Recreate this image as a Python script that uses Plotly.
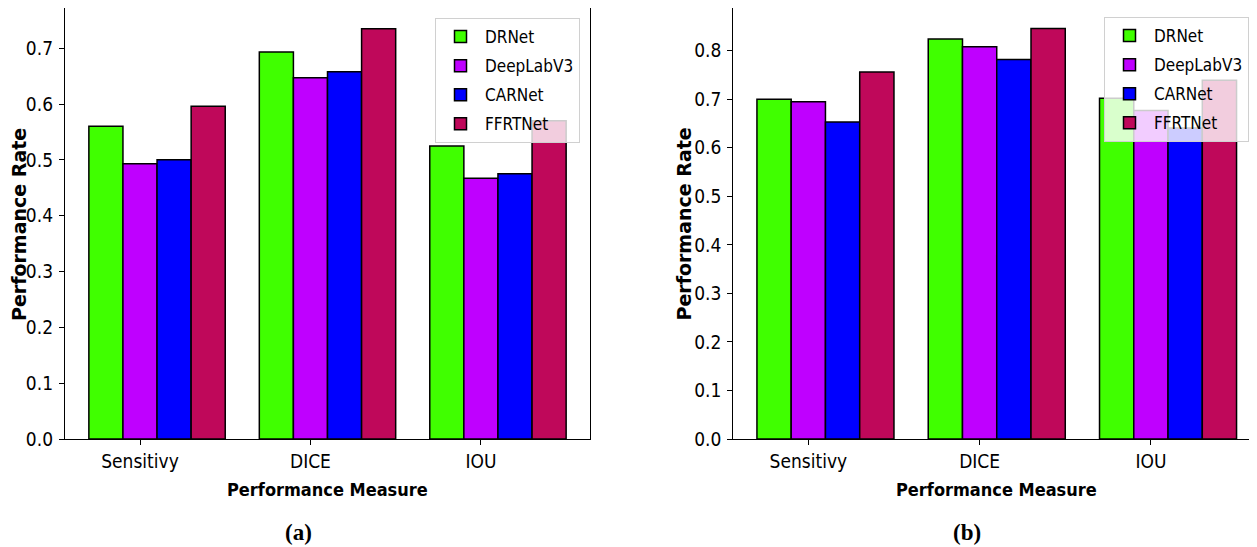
import plotly.graph_objects as go

categories = ["Sensitivy", "DICE", "IOU"]
models = ["DRNet", "DeepLabV3", "CARNet", "FFRTNet"]
colors = ["#40FF00", "#BF00FF", "#0000FF", "#BF085A"]

# panel (a)
a_drnet = [0.560, 0.693, 0.525]
a_deeplab = [0.493, 0.647, 0.467]
a_carnet = [0.500, 0.658, 0.475]
a_ffrtnet = [0.596, 0.735, 0.570]

# panel (b)
b_drnet = [0.700, 0.824, 0.702]
b_deeplab = [0.695, 0.808, 0.677]
b_carnet = [0.653, 0.782, 0.641]
b_ffrtnet = [0.756, 0.846, 0.739]

yticks_a = [0.0, 0.1, 0.2, 0.3, 0.4, 0.5, 0.6, 0.7]
yticks_b = [0.0, 0.1, 0.2, 0.3, 0.4, 0.5, 0.6, 0.7, 0.8]

OFF = 8  # default page body margin
W, H = 1257 - OFF, 547 - OFF
FONT = "DejaVu Sans Condensed, DejaVu Sans, sans-serif"
FONT_WIDE = "DejaVu Sans, sans-serif"
bar_w = 0.2

fig = go.Figure()
panels = [
    ("a", [a_drnet, a_deeplab, a_carnet, a_ffrtnet], "x", "y", "legend"),
    ("b", [b_drnet, b_deeplab, b_carnet, b_ffrtnet], "x2", "y2", "legend2"),
]
for tag, series, xa, ya, lg in panels:
    for k, (name, vals, col) in enumerate(zip(models, series, colors)):
        fig.add_trace(go.Bar(
            x=[i + (k - 1) * bar_w for i in range(len(categories))],
            y=vals, width=bar_w, name=name,
            marker=dict(color=col, line=dict(color="black", width=1.5)),
            xaxis=xa, yaxis=ya, legend=lg, legendgroup=f"{tag}{k}",
        ))

def px_x(p):
    return (p - OFF) / W

def px_y(p):
    return (H - (p - OFF)) / H

ydom = [px_y(439), px_y(8)]
axis_common = dict(showline=True, linecolor="black", linewidth=1.3, ticks="outside",
                   ticklen=5, tickwidth=1.3, tickcolor="black", showgrid=False, zeroline=False,
                   automargin=False,
                   tickfont=dict(family=FONT, size=19, color="black"))

fig.update_layout(
    width=W, height=H, margin=dict(l=0, r=0, t=0, b=0),
    plot_bgcolor="white", paper_bgcolor="white", barmode="overlay",
    xaxis=dict(domain=[px_x(65), px_x(590)], range=[-0.44, 2.64], mirror=True,
               tickvals=list(range(3)), ticktext=categories, anchor="y",
               **axis_common),
    yaxis=dict(domain=ydom, range=[0, 0.772], mirror=True, anchor="x",
               tickvals=yticks_a, ticktext=[f"{v:.1f}" for v in yticks_a],
               ticklabelstandoff=2, **axis_common),
    xaxis2=dict(domain=[px_x(733.3), 1.0], range=[-0.438, (1257 - 808.3) / 171.3], mirror=True,
                tickvals=list(range(3)), ticktext=categories, anchor="y2",
                **axis_common),
    yaxis2=dict(domain=ydom, range=[0, 0.888], anchor="x2",
                tickvals=yticks_b, ticktext=[f"{v:.1f}" for v in yticks_b],
                ticklabelstandoff=2, **axis_common),
    legend=dict(x=px_x(435), y=px_y(18), xanchor="left", yanchor="top",
                bgcolor="rgba(255,255,255,0.8)", bordercolor="#d0d0d0", borderwidth=1,
                itemwidth=39,
                font=dict(family=FONT, size=17, color="black"), traceorder="grouped", tracegroupgap=4),
    legend2=dict(x=px_x(1104), y=px_y(17), xanchor="left", yanchor="top",
                 bgcolor="rgba(255,255,255,0.8)", bordercolor="#d0d0d0", borderwidth=1,
                 itemwidth=39,
                 font=dict(family=FONT, size=17, color="black"), traceorder="grouped", tracegroupgap=4),
)

title_font = dict(family=FONT, size=18, color="black")
ytitle_font = dict(family=FONT_WIDE, size=19, color="black")
serif = dict(family="Liberation Serif, Times New Roman, serif", size=23, color="black")
annos = [
    ("<b>Performance Measure</b>", 327.5, 489, 0, title_font),
    ("<b>Performance Measure</b>", 996, 489, 0, title_font),
    ("<b>Performance Rate</b>", 19.5, 224.5, -90, ytitle_font),
    ("<b>Performance Rate</b>", 684, 224.5, -90, ytitle_font),
    ("<b>(a)</b>", 298, 532, 0, serif),
    ("<b>(b)</b>", 967, 532, 0, serif),
]
for text, xp, yp, ang, f in annos:
    fig.add_annotation(text=text, x=px_x(xp), y=px_y(yp), xref="paper", yref="paper",
                       xanchor="center", yanchor="middle", textangle=ang,
                       showarrow=False, font=f)

fig.write_html("out.html")
